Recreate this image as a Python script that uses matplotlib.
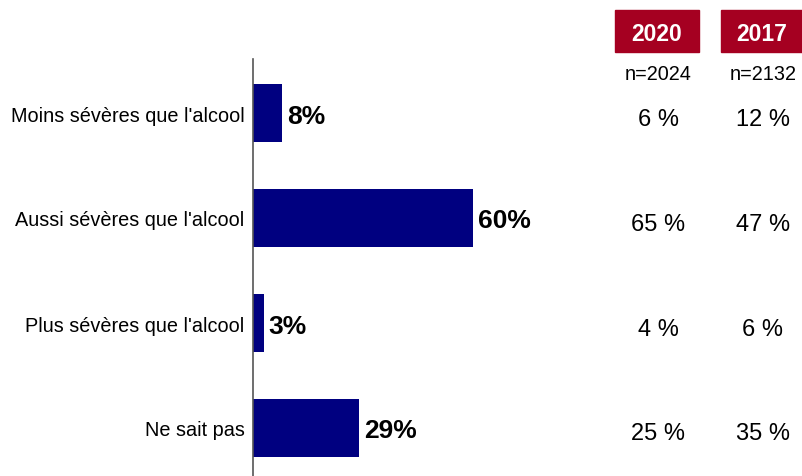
import matplotlib
matplotlib.use("Agg")
import matplotlib.pyplot as plt
from matplotlib import font_manager as fm
from matplotlib.patches import Rectangle

categories = ["Moins sévères que l'alcool", "Aussi sévères que l'alcool",
              "Plus sévères que l'alcool", "Ne sait pas"]
values_2023 = [8, 60, 3, 29]
col_years = ["2020", "2017"]
col_n = ["n=2024", "n=2132"]
values_2020 = ["6 %", "65 %", "4 %", "25 %"]
values_2017 = ["12 %", "47 %", "6 %", "35 %"]

names = {f.name for f in fm.fontManager.ttflist}
narrow = "Liberation Sans Narrow" if "Liberation Sans Narrow" in names else "Liberation Sans"
plt.rcParams['font.family'] = ['Liberation Sans', 'DejaVu Sans']

W, H = 802, 477
fig = plt.figure(figsize=(W/100, H/100), dpi=100)
ax = fig.add_axes([253/W, 0, 347/W, 417/H])
ax.set_xlim(0, 347/3.67)
ax.set_ylim(3 + 48/105, -54/105)
ypos = list(range(len(categories)))
ax.barh(ypos, values_2023, height=0.55, color="#000080")
for y, v in zip(ypos, values_2023):
    ax.text(v + 1.3, y, f"{v}%", va="center_baseline", ha="left", fontsize=19, fontweight="bold")
ax.set_yticks(ypos)
ax.set_yticklabels(categories, fontsize=14.3, va="center_baseline")
ax.tick_params(axis='y', length=0, pad=6)
ax.set_xticks([])
for s in ["top", "right", "bottom"]:
    ax.spines[s].set_visible(False)
ax.spines["left"].set_color("#555555")
ax.spines["left"].set_linewidth(1.2)

# right-hand columns
cols_x = [658, 763]
boxes = [(615, 699), (721, 802)]
for (x0, x1), cx, yr, n in zip(boxes, cols_x, col_years, col_n):
    fig.patches.append(Rectangle((x0/W, 1 - 53/H), (x1-x0)/W, 42/H,
                                 transform=fig.transFigure, color="#A50021"))
    fig.text(((x0+x1)/2)/W, 1 - 32/H, yr, ha="center", va="center_baseline", color="white",
             fontsize=16.5, fontweight="bold", family=narrow)
    fig.text(cx/W, 1 - 73/H, n, ha="center", va="center_baseline", fontsize=14.3)

for col, cx in zip([values_2020, values_2017], cols_x):
    for y, t in zip(ypos, col):
        yd = ax.transData.transform((0, y))[1]
        fig.text(cx/W, (yd - 3)/H, t, ha="center", va="center_baseline", fontsize=17)

fig.savefig("out.png", dpi=100)
